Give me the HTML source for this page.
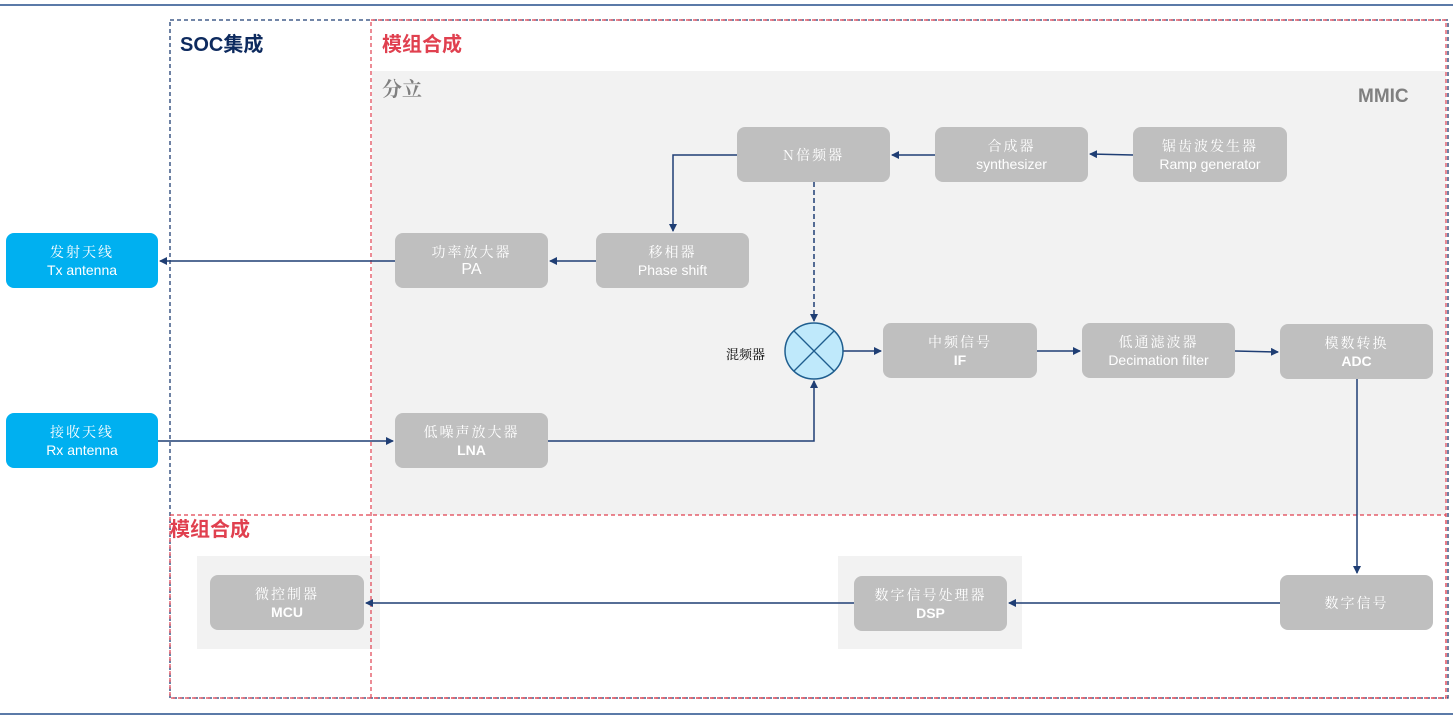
<!DOCTYPE html>
<html><head><meta charset="utf-8"><style>
body{margin:0;width:1453px;height:717px;background:#fff;position:relative;overflow:hidden;font-family:"Liberation Sans","Noto Serif CJK SC","Noto Sans CJK SC",sans-serif}
.n{position:absolute;background:#bfbfbf;border-radius:8px;color:#fff;text-align:center;font-size:14px;line-height:18px;display:flex;flex-direction:column;justify-content:center;align-items:center}
.b{background:#00b0f0}
.cj{font-family:"Noto Serif CJK SC","WenQuanYi Zen Hei",serif;letter-spacing:2px}
.bd{font-weight:bold}
.t{position:absolute;font-weight:bold;font-size:20px;font-family:"Liberation Sans","Noto Sans CJK SC",sans-serif}
</style></head><body>
<div style="position:absolute;left:0;top:4px;width:1453px;height:2px;background:#5b7aa8"></div>
<div style="position:absolute;left:0;top:713px;width:1453px;height:2px;background:#5b7aa8"></div>
<div style="position:absolute;left:372px;top:71px;width:1074px;height:444px;background:#f2f2f2"></div>
<div style="position:absolute;left:197px;top:556px;width:183px;height:93px;background:#f2f2f2"></div>
<div style="position:absolute;left:838px;top:556px;width:184px;height:93px;background:#f2f2f2"></div>
<svg width="1453" height="717" style="position:absolute;left:0;top:0">
<defs><marker id="a" markerWidth="8" markerHeight="8" refX="7" refY="4" orient="auto" markerUnits="userSpaceOnUse"><path d="M0,0L8,4L0,8z" fill="#1f3e74"/></marker></defs>
<rect x="170" y="20" width="1278" height="678" fill="none" stroke="#1f3e74" stroke-width="1.3" stroke-dasharray="4,3"/>
<rect x="371" y="20" width="1075" height="678" fill="none" stroke="#e0404f" stroke-width="1.2" stroke-dasharray="4,3"/>
<rect x="170" y="515" width="1276" height="183" fill="none" stroke="#e0404f" stroke-width="1.2" stroke-dasharray="4,3"/>
<g stroke="#1f3e74" stroke-width="1.5" fill="none">
<line x1="1133" y1="155" x2="1090" y2="154" marker-end="url(#a)"/>
<line x1="935" y1="155" x2="892" y2="155" marker-end="url(#a)"/>
<polyline points="737,155 673,155 673,231" marker-end="url(#a)"/>
<line x1="596" y1="261" x2="550" y2="261" marker-end="url(#a)"/>
<line x1="395" y1="261" x2="160" y2="261" marker-end="url(#a)"/>
<line x1="814" y1="182" x2="814" y2="321" stroke-dasharray="5,3" marker-end="url(#a)"/>
<line x1="158" y1="441" x2="393" y2="441" marker-end="url(#a)"/>
<polyline points="548,441 814,441 814,381" marker-end="url(#a)"/>
<line x1="843" y1="351" x2="881" y2="351" marker-end="url(#a)"/>
<line x1="1037" y1="351" x2="1080" y2="351" marker-end="url(#a)"/>
<line x1="1235" y1="351" x2="1278" y2="352" marker-end="url(#a)"/>
<line x1="1357" y1="379" x2="1357" y2="573" marker-end="url(#a)"/>
<line x1="1280" y1="603" x2="1009" y2="603" marker-end="url(#a)"/>
<line x1="854" y1="603" x2="366" y2="603" marker-end="url(#a)"/>
</g>
<ellipse cx="814" cy="351" rx="29" ry="28" fill="#bfe9fb" stroke="#1f5e8f" stroke-width="1.5"/>
<line x1="794" y1="331" x2="834" y2="371" stroke="#1f5e8f" stroke-width="1.3"/>
<line x1="834" y1="331" x2="794" y2="371" stroke="#1f5e8f" stroke-width="1.3"/>
</svg>
<div class="t" style="left:180px;top:28px;color:#0d2a5e">SOC集成</div>
<div class="t" style="left:382px;top:28px;color:#e0404f">模组合成</div>
<div class="t" style="left:170px;top:513px;color:#e0404f">模组合成</div>
<div class="t" style="left:382px;top:73px;color:#808080;font-family:'Noto Serif CJK SC',serif">分立</div>
<div class="t" style="left:1358px;top:86px;color:#808080;font-size:19px">MMIC</div>
<div style="position:absolute;left:726px;top:344px;font-size:13px;font-family:'Noto Serif CJK SC',serif">混频器</div>
<div class="n" style="left:737px;top:127px;width:153px;height:55px"><span class="cj">N倍频器</span></div>
<div class="n" style="left:935px;top:127px;width:153px;height:55px"><span class="cj">合成器</span><span>synthesizer</span></div>
<div class="n" style="left:1133px;top:127px;width:154px;height:55px"><span class="cj">锯齿波发生器</span><span>Ramp generator</span></div>
<div class="n" style="left:395px;top:233px;width:153px;height:55px"><span class="cj">功率放大器</span><span style="font-size:16px">PA</span></div>
<div class="n" style="left:596px;top:233px;width:153px;height:55px"><span class="cj">移相器</span><span>Phase shift</span></div>
<div class="n" style="left:883px;top:323px;width:154px;height:55px"><span class="cj">中频信号</span><span class="bd">IF</span></div>
<div class="n" style="left:1082px;top:323px;width:153px;height:55px"><span class="cj">低通滤波器</span><span>Decimation filter</span></div>
<div class="n" style="left:1280px;top:324px;width:153px;height:55px"><span class="cj">模数转换</span><span class="bd">ADC</span></div>
<div class="n" style="left:395px;top:413px;width:153px;height:55px"><span class="cj">低噪声放大器</span><span class="bd">LNA</span></div>
<div class="n b" style="left:6px;top:233px;width:152px;height:55px"><span class="cj">发射天线</span><span>Tx antenna</span></div>
<div class="n b" style="left:6px;top:413px;width:152px;height:55px"><span class="cj">接收天线</span><span>Rx antenna</span></div>
<div class="n" style="left:210px;top:575px;width:154px;height:55px"><span class="cj">微控制器</span><span class="bd">MCU</span></div>
<div class="n" style="left:854px;top:576px;width:153px;height:55px"><span class="cj">数字信号处理器</span><span class="bd">DSP</span></div>
<div class="n" style="left:1280px;top:575px;width:153px;height:55px"><span class="cj">数字信号</span></div>
</body></html>
